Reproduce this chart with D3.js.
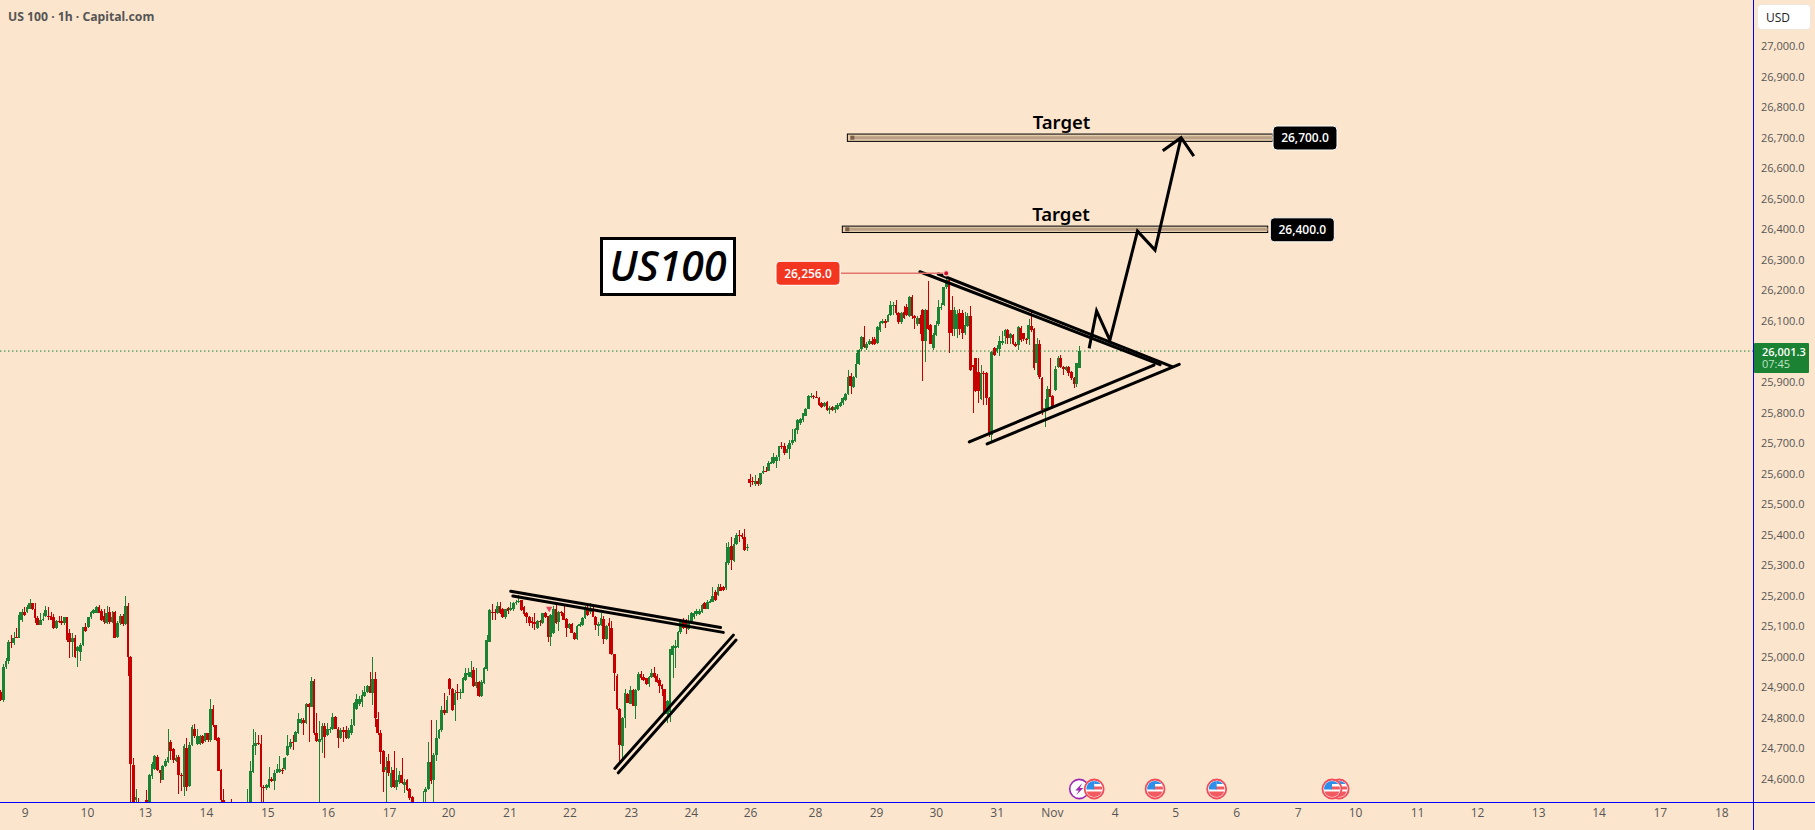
<!DOCTYPE html>
<html>
<head>
<meta charset="utf-8">
<title>US 100 1h</title>
<script src="https://cdn.jsdelivr.net/npm/d3@7/dist/d3.min.js"></script>
<style>
  html, body { margin: 0; padding: 0; background: #fce5cd; overflow: hidden; }
  svg { display: block; }
  text { font-family: "Open Sans", "Noto Sans", sans-serif; }
</style>
</head>
<body>
<svg id="chart" width="1815" height="830"></svg>
<script>
// Hourly candles, one list per session. Each row: [open, high, low, close].
const oct08 = [[24886,24890,24855,24858],[24858,24978,24853,24967],[24967,24995,24960,24985],[24985,25055,24978,25049],[25049,25070,25030,25044],[25044,25082,25038,25063],[25066,25093,25060,25063],[25063,25147,25060,25136],[25120,25158,25115,25147]];
const oct09 = [[25147,25163,25135,25136],[25147,25170,25142,25163],[25158,25188,25155,25175],[25175,25177,25154,25156],[25158,25175,25110,25126],[25126,25135,25103,25104],[25104,25142,25103,25122],[25122,25142,25118,25125],[25133,25166,25130,25153],[25134,25163,25120,25131],[25133,25147,25120,25122],[25131,25140,25090,25093],[25093,25120,25090,25117],[25118,25135,25112,25115],[25118,25133,25105,25110],[25110,25130,25105,25129],[25129,25131,25050,25055],[25078,25090,24995,25049],[25049,25078,24999,25063],[25063,25070,24995,24998],[25018,25035,24965,25033],[25016,25044,24987,25038],[25038,25097,25035,25096],[25096,25110,25082,25084]];
const oct10 = [[25096,25131,25095,25129],[25129,25150,25125,25147],[25145,25157,25140,25153],[25145,25166,25143,25164],[25164,25170,25143,25145],[25150,25155,25118,25122],[25133,25155,25108,25115],[25112,25166,25107,25142],[25147,25164,25109,25115],[25114,25150,25110,25129],[25147,25150,25060,25063],[25065,25118,25063,25111],[25111,25140,25105,25133],[25133,25140,25100,25107],[25107,25199,25104,25166],[25166,25177,24937,24999],[25000,25002,24500,24650],[24645,24667,24490,24520],[24530,24568,24480,24540],[24510,24536,24480,24495],[24500,24515,24470,24490],[24495,24510,24470,24500]];
const oct13 = [[24530,24563,24500,24520],[24520,24617,24490,24612],[24608,24655,24600,24648],[24634,24678,24630,24675],[24673,24678,24627,24629],[24629,24630,24587,24620],[24596,24647,24595,24642],[24642,24665,24640,24660],[24656,24765,24653,24672],[24722,24729,24662,24692],[24697,24700,24653,24662],[24660,24678,24655,24670],[24672,24680,24552,24612],[24612,24620,24560,24610],[24574,24716,24544,24707],[24700,24733,24560,24574],[24576,24720,24575,24711],[24711,24778,24708,24771],[24765,24780,24733,24740],[24716,24765,24710,24740],[24714,24745,24710,24740],[24740,24745,24716,24718],[24725,24752,24720,24750]];
const oct14 = [[24750,24752,24722,24727],[24727,24863,24722,24828],[24828,24842,24770,24776],[24776,24778,24725,24727],[24735,24737,24625,24626],[24630,24632,24520,24530],[24530,24568,24480,24500],[24500,24520,24470,24490],[24490,24515,24465,24480],[24500,24533,24480,24495],[24495,24510,24470,24485],[24485,24505,24460,24475],[24480,24500,24460,24470],[24475,24505,24465,24490],[24490,24515,24470,24510],[24510,24566,24490,24518],[24520,24658,24490,24625],[24623,24765,24620,24711],[24707,24754,24678,24718],[24718,24743,24710,24713],[24716,24743,24525,24574],[24575,24580,24520,24570],[24570,24582,24565,24580]];
const oct15 = [[24574,24640,24570,24601],[24601,24605,24590,24594],[24594,24629,24563,24620],[24620,24650,24618,24634],[24624,24675,24620,24634],[24630,24635,24615,24626],[24631,24672,24628,24669],[24678,24743,24675,24707],[24705,24730,24698,24722],[24722,24743,24695,24720],[24722,24757,24720,24754],[24751,24815,24748,24795],[24782,24800,24780,24795],[24792,24800,24745,24782],[24782,24850,24780,24845],[24845,24850,24722,24837],[24837,24935,24835,24921],[24921,24926,24745,24751],[24751,24815,24720,24725],[24720,24790,24500,24730],[24727,24782,24685,24773],[24773,24782,24670,24738]];
const oct16 = [[24743,24784,24740,24762],[24760,24770,24750,24765],[24762,24815,24760,24802],[24802,24805,24763,24765],[24765,24770,24700,24735],[24735,24768,24730,24760],[24760,24770,24722,24755],[24760,24775,24730,24733],[24735,24768,24730,24760],[24749,24795,24745,24776],[24776,24853,24772,24849],[24830,24877,24825,24863],[24846,24870,24840,24863],[24853,24890,24835,24875],[24871,24904,24868,24885],[24886,24908,24880,24904],[24904,24950,24880,24882],[24882,24998,24842,24926],[24926,24950,24770,24798],[24795,24820,24745,24751],[24751,24760,24650,24689],[24691,24695,24557,24623],[24630,24672,24500,24640]];
const oct17 = [[24658,24683,24610,24618],[24574,24640,24570,24618],[24629,24691,24570,24574],[24574,24635,24565,24596],[24590,24626,24585,24612],[24612,24667,24585,24587],[24580,24600,24555,24590],[24598,24600,24560,24563],[24568,24570,24530,24536],[24541,24545,24510,24520],[24515,24520,24480,24490],[24495,24510,24470,24480],[24485,24505,24460,24475],[24480,24560,24470,24510],[24558,24575,24500,24568],[24568,24721,24565,24655],[24656,24793,24585,24594],[24596,24685,24500,24680],[24678,24793,24660,24735],[24735,24765,24730,24760],[24760,24840,24755,24825],[24825,24880,24810,24817],[24817,24871,24815,24860]];
const oct20 = [[24926,24930,24875,24893],[24896,24897,24823,24825],[24842,24891,24790,24882],[24885,24910,24858,24882],[24882,24893,24863,24885],[24882,24935,24880,24931],[24924,24962,24920,24948],[24940,24962,24935,24948],[24935,24985,24930,24950],[24956,24965,24900,24904],[24904,24962,24898,24918],[24918,24921,24868,24871],[24871,24925,24868,24918],[24915,24968,24910,24962],[24960,25070,24955,25055],[25050,25155,25048,25153],[25146,25172,25120,25144],[25146,25158,25120,25144],[25142,25180,25140,25166],[25166,25180,25140,25142],[25158,25160,25127,25129],[25129,25157,25125,25155],[25161,25163,25140,25150]];
const oct21 = [[25154,25178,25150,25159],[25155,25178,25150,25175],[25175,25185,25170,25180],[25178,25202,25175,25182],[25185,25187,25150,25153],[25163,25165,25135,25140],[25142,25146,25112,25130],[25131,25133,25100,25112],[25118,25130,25095,25112],[25115,25142,25087,25107],[25095,25120,25090,25118],[25118,25122,25100,25114],[25111,25144,25108,25142],[25142,25148,25128,25131],[25133,25135,25049,25066],[25066,25140,25036,25136],[25079,25165,25075,25155],[25155,25177,25108,25111],[25115,25150,25085,25147],[25147,25150,25135,25142],[25142,25166,25120,25122],[25125,25127,25066,25095]];
const oct22 = [[25095,25110,25090,25107],[25107,25110,25077,25079],[25079,25082,25055,25058],[25058,25103,25055,25100],[25100,25113,25098,25109],[25104,25130,25100,25126],[25126,25167,25124,25164],[25158,25172,25135,25137],[25147,25175,25140,25158],[25158,25162,25129,25131],[25131,25133,25087,25104],[25100,25115,25068,25107],[25104,25142,25100,25126],[25124,25135,25041,25058],[25057,25103,25055,25100],[25111,25126,25009,25100],[25094,25117,25005,25008],[25008,25010,24889,24946],[24937,24945,24825,24828],[24830,24832,24650,24710],[24708,24802,24661,24798],[24798,24896,24767,24880],[24877,24880,24848,24850]];
const oct23 = [[24847,24904,24845,24891],[24891,24895,24838,24840],[24840,24895,24797,24891],[24891,24951,24889,24943],[24943,24953,24925,24929],[24934,24945,24920,24923],[24929,24932,24908,24910],[24910,24937,24900,24934],[24934,24960,24930,24947],[24947,24967,24930,24934],[24936,24945,24915,24918],[24925,24930,24880,24904],[24907,24910,24870,24893],[24893,24895,24812,24814],[24814,24858,24783,24855],[24820,25027,24785,25025],[25005,25040,24931,25035],[25030,25055,24962,25035],[25033,25083,25030,25080],[25080,25120,25075,25115],[25115,25126,25090,25093],[25120,25125,25074,25093],[25091,25138,25089,25118]];
const oct24 = [[25118,25146,25115,25142],[25129,25150,25125,25142],[25139,25155,25135,25150],[25140,25156,25136,25150],[25147,25173,25145,25169],[25177,25180,25155,25158],[25158,25185,25155,25180],[25177,25188,25175,25183],[25180,25230,25178,25199],[25213,25220,25184,25186],[25202,25240,25200,25227],[25227,25240,25214,25216],[25227,25233,25215,25218],[25224,25373,25220,25309],[25306,25375,25300,25360],[25362,25391,25284,25317],[25313,25389,25310,25369],[25369,25407,25365,25399],[25400,25415,25375,25398],[25399,25405,25385,25391],[25391,25418,25347,25350],[25356,25371,25347,25358]];
const oct27 = [[25581,25600,25555,25570],[25575,25590,25563,25572],[25566,25595,25560,25576],[25576,25584,25560,25566],[25566,25603,25563,25601],[25601,25625,25598,25609],[25610,25620,25605,25608],[25609,25640,25607,25636],[25633,25653,25630,25639],[25634,25666,25630,25653],[25642,25661,25619,25653],[25653,25692,25642,25690],[25691,25702,25682,25689],[25690,25699,25660,25668],[25668,25693,25666,25679],[25679,25710,25648,25699],[25699,25745,25695,25710],[25707,25750,25705,25745],[25742,25780,25730,25775],[25765,25783,25760,25780],[25775,25800,25770,25797],[25790,25816,25787,25813],[25813,25858,25810,25854],[25851,25865,25848,25853]];
const oct28 = [[25853,25857,25845,25851],[25852,25870,25846,25850],[25848,25850,25822,25824],[25832,25835,25815,25817],[25821,25835,25818,25832],[25835,25838,25805,25808],[25808,25820,25795,25815],[25817,25820,25805,25808],[25808,25825,25797,25817],[25813,25832,25808,25824],[25820,25836,25817,25830],[25830,25850,25826,25846],[25840,25865,25838,25860],[25860,25938,25858,25915],[25919,25930,25860,25887],[25885,25920,25880,25915],[25915,25994,25912,25958],[25958,26008,25955,26004],[26007,26050,26000,26046],[26046,26083,26010,26015],[26010,26030,26005,26024],[26024,26040,26020,26035],[26035,26046,26022,26024]];
const oct29 = [[26042,26048,26020,26026],[26028,26085,26025,26079],[26070,26100,26065,26097],[26094,26105,26090,26100],[26100,26105,26078,26094],[26097,26122,26095,26119],[26119,26165,26115,26152],[26150,26163,26118,26152],[26152,26168,26120,26125],[26125,26130,26090,26095],[26095,26130,26090,26125],[26130,26150,26105,26108],[26146,26155,26115,26119],[26116,26182,26113,26179],[26179,26185,26106,26116],[26116,26120,26072,26108],[26090,26115,26085,26108],[26108,26120,26058,26090],[26135,26140,25904,26035],[26035,26140,25966,26135],[26135,26230,26070,26072],[26086,26090,26023,26026]];
const oct30 = [[26010,26060,26005,26054],[26054,26100,26050,26086],[26090,26168,26085,26144],[26141,26158,26135,26146],[26152,26212,26150,26210],[26210,26256,26205,26234],[26234,26236,25996,26059],[26135,26180,26050,26059],[26072,26146,26050,26135],[26072,26135,26045,26124],[26127,26138,26055,26072],[26127,26135,26040,26059],[26059,26130,26055,26086],[26083,26125,26080,26116],[26116,26150,25936,25939],[25955,25955,25800,25950],[25977,25980,25868,25872],[25934,25980,25830,25872],[25843,25955,25840,25930],[25930,25935,25825,25926],[25928,25932,25825,25846],[25846,25850,25720,25726]];
const oct31 = [[25726,26002,25707,25999],[26012,26015,25985,25988],[26001,26020,25995,26010],[26007,26050,25985,26034],[26027,26068,26022,26035],[26050,26075,26025,26070],[26070,26075,26024,26043],[26045,26062,26025,26057],[26054,26058,26022,26024],[26026,26030,26015,26017],[26021,26085,26005,26081],[26078,26082,26030,26037],[26059,26062,26035,26040],[26042,26045,26023,26040],[26040,26105,26020,26086],[26083,26136,26065,26070],[26073,26076,25940,25945],[25963,26043,25923,26024],[26024,26037,25910,25915],[25912,25915,25792,25808],[25810,25843,25753,25815]];
const nov03 = [[25808,25887,25805,25876],[25876,25977,25850,25852],[25854,25856,25818,25821],[25873,25952,25870,25941],[25950,25985,25945,25977],[25977,25988,25945,25950],[25950,25952,25923,25941],[25939,25952,25935,25948],[25948,25952,25918,25930],[25932,25935,25908,25912],[25912,25915,25881,25893],[25895,25963,25884,25961],[25947,26018,25945,26001]];

const candles = [].concat(oct08, oct09, oct10, oct13, oct14, oct15, oct16, oct17, oct20, oct21, oct22, oct23, oct24, oct27, oct28, oct29, oct30, oct31, nov03);

// Axis labels
const priceTicks = [24600,24700,24800,24900,25000,25100,25200,25300,25400,25500,25600,25700,25800,25900,26000,26100,26200,26300,26400,26500,26600,26700,26800,26900,27000];
const dayLabels = ["9","10","13","14","15","16","17","20","21","22","23","24","26","28","29","30","31","Nov","4","5","6","7","10","11","12","13","14","17","18"];
const dayBars = [9.2,32.6,54.4,77.4,100.5,123.2,146.3,168.5,191.6,214.2,237.3,259.9,282.2,306.6,329.6,352.1,375,395.8,419.4,442.2,465.1,488.3,509.9,533.2,555.8,578.8,601.5,624.6,647.7];

// Last traded price and the high of the move
const lastPrice = 26001.3;
const countdown = "07:45";
const swingHigh = 26256;
const swingHighBar = 356;

// Drawn trendlines: [barA, priceA, barB, priceB]
const flagLines = [[192.1,25215,271.1,25096],[192.9,25199,272.1,25080],[231.3,24634.5,275.9,25071],[232.6,24620,276.9,25055]];
const wedgeLines = [[346.1,26261,436.5,25957],[353,26253.6,441,25950],[364.7,25704,434.2,25955.5],[371.4,25697,443.7,25958]];

// Projected path and its arrow head: [bar, price]
const arrowPath = [[409.8,26010],[412.6,26133],[417.6,26037],[428,26394],[434.6,26332],[444.4,26700]];
const arrowHead = [[437.5,26657],[444.4,26700],[449.2,26640]];

// Target bands
const targetPrices = [26700, 26400];
const targetNames = ["Target", "Target"];
const targetStartBars = [318.8, 316.9];
const targetEndBars = [478.9, 477];
const targetHalfBands = [12, 10.5];
const targetNameBars = [399.4, 399.2];
const targetNamePrices = [26727, 26428];

// Calendar markers along the bottom edge
const flagEventBars = [411.7, 434.6, 457.8, 503.9, 501.2];
const boltEventBars = [406.1];
const dividendBar = 206.6;
const dividendPrice = 25158;

const BAR_STEP = 2.657;
const paneW = 1753, paneH = 802;
const ink = "#000", up = "#1a8232", down = "#c60000", axisBlue = "#0000ff", labelGrey = "#555";

const svg = d3.select("#chart");
const x = d3.scaleLinear().domain([0, paneW / BAR_STEP]).range([0.3, paneW + 0.3]);
const y = d3.scaleLinear().domain([24523.5, 27151]).range([paneH + 0.3, 0]);

svg.append("rect").attr("width", 1815).attr("height", 830).attr("fill", "#fce5cd");
svg.append("clipPath").attr("id", "pane").append("rect").attr("width", paneW).attr("height", paneH);

// Candles
const plot = svg.append("g").attr("clip-path", "url(#pane)").attr("shape-rendering", "crispEdges");
const bars = plot.selectAll("g.bar").data(candles).join("g").attr("class", "bar")
  .attr("fill", d => d[3] >= d[0] ? up : down);
bars.append("rect")
  .attr("x", (d, i) => Math.round(x(i)))
  .attr("width", 1)
  .attr("y", d => y(d[1]))
  .attr("height", d => Math.max(1, y(d[2]) - y(d[1])));
bars.append("rect")
  .attr("x", (d, i) => Math.round(x(i) - 1.1))
  .attr("width", (d, i) => Math.round(x(i) + 1.6) - Math.round(x(i) - 1.1))
  .attr("y", d => y(Math.max(d[0], d[3])))
  .attr("height", d => Math.max(1, Math.abs(y(d[0]) - y(d[3]))));

// Last price dotted line
svg.append("line")
  .attr("x1", 0).attr("x2", paneW)
  .attr("y1", y(lastPrice)).attr("y2", y(lastPrice))
  .attr("stroke", up).attr("stroke-width", 1).attr("stroke-dasharray", "1.5 2.5");

// Small marker over the October 21 session
plot.append("path")
  .attr("d", d3.symbol(d3.symbolTriangle, 18))
  .attr("transform", `translate(${x(dividendBar)},${y(dividendPrice)}) rotate(180)`)
  .attr("fill", "#e04a5c").attr("shape-rendering", "auto");

// Target bands
targetPrices.forEach((p, i) => {
  const g = svg.append("g");
  const x0 = x(targetStartBars[i]), x1 = x(targetEndBars[i]);
  const yTop = y(p + targetHalfBands[i]), yBot = y(p - targetHalfBands[i]);
  g.append("rect").attr("x", x0).attr("y", yTop).attr("width", x1 - x0).attr("height", yBot - yTop)
    .attr("fill", "#e3cbac").attr("stroke", ink).attr("stroke-width", 1);
  g.append("line").attr("x1", x0 + 3).attr("x2", x1).attr("y1", y(p)).attr("y2", y(p))
    .attr("stroke", "#b99f84").attr("stroke-width", 3);
  g.append("rect").attr("x", x0 + 3).attr("y", y(p) - 2).attr("width", 4).attr("height", 4).attr("fill", "#7a6048");
  svg.append("text").attr("x", x(targetNameBars[i])).attr("y", y(targetNamePrices[i]))
    .attr("text-anchor", "middle").attr("font-size", 18.5).attr("font-weight", 600)
    .style("font-family", "'Noto Sans', sans-serif").attr("fill", ink).text(targetNames[i]);
});

// Trendlines and the projected path
const pairLines = flagLines.concat(wedgeLines);
svg.append("g").selectAll("line").data(pairLines).join("line")
  .attr("x1", d => x(d[0])).attr("y1", d => y(d[1]))
  .attr("x2", d => x(d[2])).attr("y2", d => y(d[3]))
  .attr("stroke", ink).attr("stroke-width", 3).attr("stroke-linecap", "round");
const polyline = d3.line().x(d => x(d[0])).y(d => y(d[1]));
[arrowPath, arrowHead].forEach(pts => {
  svg.append("path").attr("d", polyline(pts)).attr("fill", "none")
    .attr("stroke", ink).attr("stroke-width", 3).attr("stroke-linejoin", "miter");
});

// Rounded price tags
function tag(cx, cy, w, h, fill, label) {
  svg.append("rect").attr("x", cx - w / 2).attr("y", cy - h / 2).attr("width", w).attr("height", h)
    .attr("rx", 4).attr("fill", fill).attr("stroke", "#fff").attr("stroke-width", 1);
  svg.append("text").attr("x", cx).attr("y", cy + 4.3).attr("text-anchor", "middle")
    .attr("font-size", 12).attr("font-weight", 600).attr("fill", "#fff").text(label);
}
const money = d3.format(",.1f");
tag(1305, y(targetPrices[0]) + 0.3, 64, 24, "#000", money(targetPrices[0]));
tag(1302.3, y(targetPrices[1]) + 0.5, 64, 24, "#000", money(targetPrices[1]));

// Swing-high leader and tag
svg.append("line").attr("x1", 841).attr("x2", x(swingHighBar)).attr("y1", y(swingHigh)).attr("y2", y(swingHigh))
  .attr("stroke", "#e0756c").attr("stroke-width", 1.6);
svg.append("circle").attr("cx", x(swingHighBar)).attr("cy", y(swingHigh)).attr("r", 2.6)
  .attr("fill", "#c8102e").attr("stroke", "#f6cfc4").attr("stroke-width", 1.2);
tag(808, y(swingHigh), 64, 24, "#f2361f", money(swingHigh));

// Instrument box
svg.append("rect").attr("x", 601.5).attr("y", 238.5).attr("width", 133).attr("height", 56)
  .attr("fill", "#fff").attr("stroke", ink).attr("stroke-width", 3);
svg.append("text").attr("x", 668).attr("y", 281).attr("text-anchor", "middle")
  .attr("font-size", 41).attr("font-style", "italic").attr("font-weight", 600)
  .attr("fill", ink).text("US100");

// Calendar markers
function flagBadge(bar, id) {
  const g = svg.append("g").attr("transform", `translate(${x(bar)},789)`);
  g.append("clipPath").attr("id", id).append("circle").attr("r", 8);
  g.append("circle").attr("r", 10).attr("fill", "#fce5cd");
  g.append("circle").attr("r", 9.5).attr("fill", "#fff").attr("stroke", "#f24b5a").attr("stroke-width", 1.8);
  const f = g.append("g").attr("clip-path", `url(#${id})`);
  f.append("rect").attr("x", -8).attr("y", -8).attr("width", 16).attr("height", 16).attr("fill", "#fff");
  f.append("rect").attr("x", -1).attr("y", -2.5).attr("width", 9).attr("height", 3).attr("fill", "#f25a5f");
  f.append("rect").attr("x", -8).attr("y", 2.5).attr("width", 16).attr("height", 6).attr("fill", "#f25a5f");
  f.append("rect").attr("x", -8).attr("y", -8).attr("width", 8).attr("height", 8.5).attr("fill", "#2f8fe8");
  f.append("rect").attr("x", 0).attr("y", -8).attr("width", 8).attr("height", 3).attr("fill", "#2f8fe8");
}
boltEventBars.forEach(b => {
  const g = svg.append("g").attr("transform", `translate(${x(b)},789)`);
  g.append("circle").attr("r", 9.6).attr("fill", "#fff").attr("stroke", "#9c27b0").attr("stroke-width", 1.6);
  g.append("path").attr("d", "M3,-6 L-4,1.5 L-0.5,1.5 L-3,6 L4,-1 L0.5,-1 Z").attr("fill", "#9c27b0");
});
flagEventBars.forEach((b, i) => flagBadge(b, "flag" + i));

// Scale frame
svg.append("line").attr("x1", 0).attr("x2", 1815).attr("y1", paneH + 0.5).attr("y2", paneH + 0.5)
  .attr("stroke", axisBlue).attr("stroke-width", 1);
svg.append("line").attr("x1", paneW + 0.5).attr("x2", paneW + 0.5).attr("y1", 0).attr("y2", 830)
  .attr("stroke", axisBlue).attr("stroke-width", 1);

// Price and time axes
const yAxis = d3.axisRight(y).tickValues(priceTicks).tickSize(0).tickPadding(0).tickFormat(money);
const gy = svg.append("g").attr("transform", "translate(1761,0)").call(yAxis);
gy.select(".domain").remove();
gy.selectAll("text").attr("font-size", 11).attr("fill", labelGrey).style("font-family", "'Open Sans', sans-serif");

const xAxis = d3.axisBottom(x).tickValues(dayBars).tickSize(0).tickPadding(0).tickFormat((d, i) => dayLabels[i]);
const gx = svg.append("g").attr("transform", "translate(0,808)").call(xAxis);
gx.select(".domain").remove();
gx.selectAll("text").attr("font-size", 12).attr("fill", labelGrey).style("font-family", "'Open Sans', sans-serif");

// Current price tag
svg.append("rect").attr("x", paneW + 1).attr("y", 343).attr("width", 55).attr("height", 30).attr("rx", 1).attr("fill", up);
svg.append("text").attr("x", 1762).attr("y", 356).attr("font-size", 11).attr("font-weight", 600)
  .attr("fill", "#fff").text(d3.format(",.1f")(lastPrice));
svg.append("text").attr("x", 1762).attr("y", 368).attr("font-size", 11).attr("fill", "#bfe3c8").text(countdown);

// Currency button
svg.append("rect").attr("x", 1757.5).attr("y", 4.5).attr("width", 53).attr("height", 25).attr("rx", 4)
  .attr("fill", "#fff").attr("stroke", "#eee7df");
svg.append("text").attr("x", 1766).attr("y", 22).attr("font-size", 12).attr("fill", "#222").text("USD");

// Chart title
svg.append("text").attr("x", 8).attr("y", 21).attr("font-size", 12.2).attr("font-weight", 700)
  .attr("fill", labelGrey).style("font-family", "'Noto Sans', sans-serif").text("US 100 · 1h · Capital.com");
</script>
</body>
</html>
